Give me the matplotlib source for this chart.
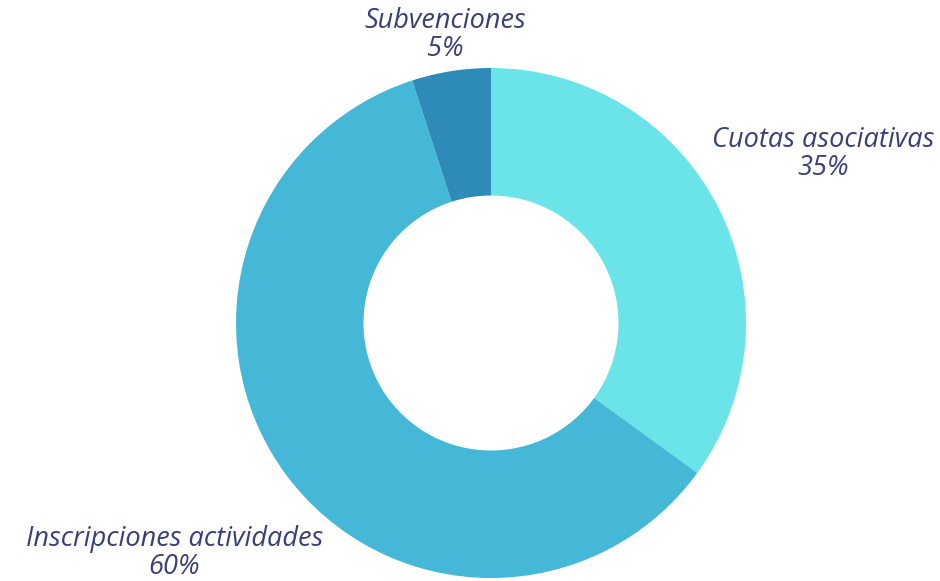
import numpy as np
import matplotlib.pyplot as plt

categories = ["Cuotas asociativas", "Inscripciones actividades", "Subvenciones"]
values = [35, 60, 5]
colors = ["#6AE4E8", "#44B8D6", "#2E8AB7"]
label_dist = [1.46, 1.535, 1.145]

W, H = 940, 581
fig = plt.figure(figsize=(W / 100, H / 100), dpi=100)
ax = fig.add_axes([0, 0, 1, 1])

cx, cy, R = 491, H - 323, 255
wedges, _ = ax.pie(values, colors=colors, startangle=90, counterclock=False,
                   center=(cx, cy), radius=R, frame=True,
                   wedgeprops=dict(width=R * 0.5, edgecolor="none"))
ax.set_xlim(0, W)
ax.set_ylim(0, H)
ax.set_aspect("equal")
ax.axis("off")

total = sum(values)
for w, cat, v, d in zip(wedges, categories, values, label_dist):
    ang = np.deg2rad((w.theta1 + w.theta2) / 2)
    x = cx + d * R * np.cos(ang)
    y = cy + d * R * np.sin(ang)
    ax.text(x, y, f"{cat}\n{round(100 * v / total)}%", ha="center", va="center",
            fontsize=19.5, style="italic", color="#3A3E7A",
            family="Open Sans", linespacing=1.0)

fig.savefig("out.png", dpi=100)
